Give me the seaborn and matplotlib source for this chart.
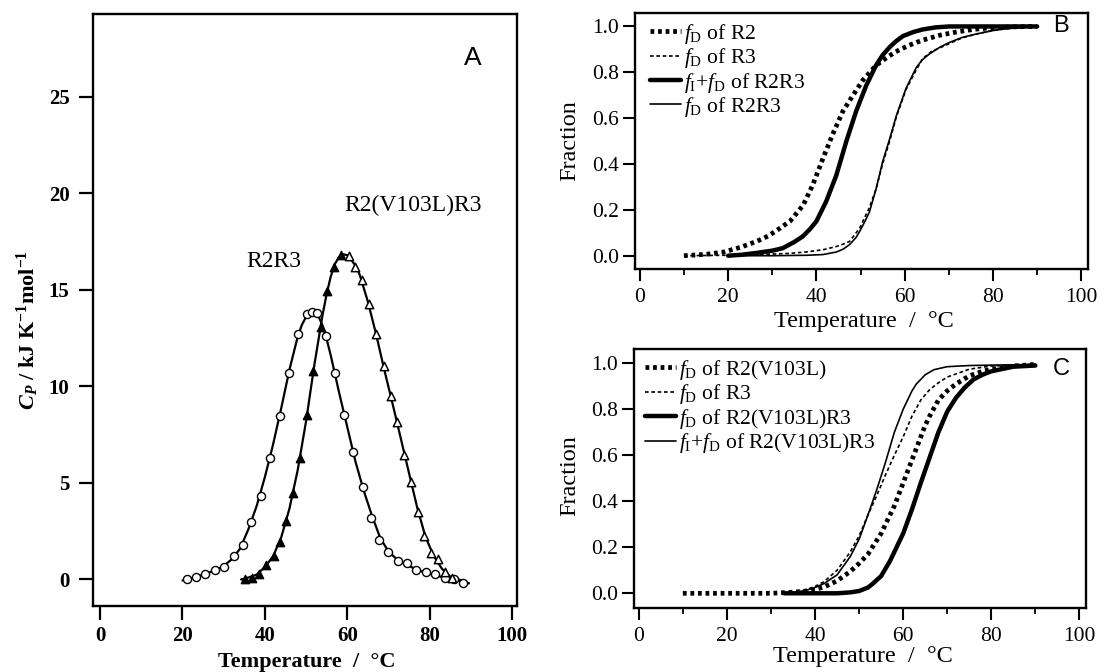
import matplotlib
matplotlib.use("Agg")
import numpy as np
import pandas as pd
import seaborn as sns
import matplotlib.pyplot as plt
from matplotlib.ticker import MultipleLocator, FormatStrFormatter
from matplotlib.lines import Line2D

# ---------------- Panel A data (DSC, Cp in kJ K-1 mol-1) ----------------
t_r2r3_pts = [21.0, 23.3, 25.5, 27.8, 30.1, 32.4, 34.6, 36.6, 39.0, 41.3, 43.6, 45.8,
              48.0, 50.2, 51.4, 52.6, 54.8, 57.1, 59.3, 61.5, 63.8, 65.7, 67.8, 70.0,
              72.2, 74.5, 76.8, 79.0, 81.4, 83.6, 85.8, 88.1]
cp_r2r3_pts = [0.04, 0.15, 0.30, 0.50, 0.65, 1.2, 1.8, 3.0, 4.35, 6.3, 8.45, 10.7,
               12.7, 13.75, 13.85, 13.8, 12.6, 10.7, 8.5, 6.6, 4.8, 3.2, 2.05, 1.4,
               0.95, 0.85, 0.5, 0.4, 0.27, 0.05, 0.0, -0.2]
t_r2r3_fit = [20, 22, 24, 26, 28, 30, 32, 34, 36, 38, 40, 42, 44, 46, 48, 49, 50, 51, 52,
              53, 54, 55, 56, 58, 60, 62, 64, 66, 68, 70, 72, 74, 76, 78, 80, 82, 84, 86,
              88, 89.5]
cp_r2r3_fit = [-0.05, 0.05, 0.18, 0.32, 0.48, 0.7, 1.05, 1.6, 2.6, 3.8, 5.3, 7.0, 8.9,
               10.9, 12.6, 13.2, 13.6, 13.82, 13.85, 13.65, 13.15, 12.45, 11.6, 9.7, 7.9,
               6.1, 4.6, 3.3, 2.15, 1.45, 1.05, 0.8, 0.6, 0.42, 0.3, 0.18, 0.08, 0.0,
               -0.1, -0.2]

t_mut_rise = [35.2, 36.8, 38.5, 40.2, 42.1, 43.6, 45.1, 46.8, 48.6, 50.2, 51.8, 53.6,
              55.1, 56.9, 58.5]
cp_mut_rise = [0.04, 0.1, 0.27, 0.75, 1.2, 1.95, 3.05, 4.5, 6.3, 8.5, 10.8, 13.1,
               14.95, 16.2, 16.8]
t_mut_fall = [60.3, 61.9, 63.6, 65.2, 67.0, 68.8, 70.6, 72.1, 73.8, 75.5, 77.2, 78.7,
              80.3, 81.9, 83.6, 85.5]
cp_mut_fall = [16.75, 16.2, 15.5, 14.25, 12.7, 11.05, 9.5, 8.15, 6.45, 5.05, 3.5, 2.25,
               1.35, 1.05, 0.38, 0.05]
t_mut_fit = [34.2, 36, 38, 40, 42, 44, 46, 48, 50, 52, 54, 55, 56, 57, 58, 59, 60, 61,
             62, 63, 65, 67, 69, 71, 73, 75, 77, 79, 81, 83, 85, 87, 89.5]
cp_mut_fit = [0.0, 0.1, 0.25, 0.65, 1.2, 2.2, 3.7, 5.7, 8.2, 11.1, 13.7, 14.8, 15.7,
              16.35, 16.7, 16.85, 16.8, 16.55, 16.25, 15.8, 14.4, 12.7, 10.85, 9.1, 7.3,
              5.5, 3.7, 2.2, 1.2, 0.55, 0.15, 0.0, -0.2]

# ---------------- Panel B data (fractions) ----------------
tB_r2 = [10, 15, 19, 23, 26.4, 29, 31, 34, 37, 39.2, 41.5, 43.7, 46, 48.3, 50.5, 53.5,
         56, 58, 61, 64, 68, 72, 76, 79, 84, 90]
fB_r2 = [0.0, 0.006, 0.016, 0.038, 0.062, 0.085, 0.11, 0.15, 0.22, 0.31, 0.425, 0.53,
         0.63, 0.70, 0.765, 0.83, 0.865, 0.89, 0.918, 0.94, 0.962, 0.977, 0.988, 0.993,
         0.998, 1.0]
tB_r3 = [10, 20, 28, 34, 38, 41.5, 44.5, 46, 47.5, 49.8, 52, 53.5, 55, 56.6, 58.1, 60.3,
         62.6, 64.1, 66, 70.1, 73, 76.2, 80, 85, 90]
fB_r3 = [0.0, 0.002, 0.006, 0.01, 0.017, 0.026, 0.04, 0.05, 0.062, 0.12, 0.21, 0.29,
         0.40, 0.50, 0.605, 0.725, 0.81, 0.86, 0.89, 0.925, 0.95, 0.967, 0.983, 0.995,
         1.0]
tB_fifd = [20, 23, 26.4, 30, 32.4, 35, 36.9, 38.5, 40, 42.2, 44.5, 46.8, 49, 51.3, 53.5,
           55, 56.6, 58, 59.6, 62, 64.1, 67, 70.1, 80, 90]
fB_fifd = [0.0, 0.004, 0.012, 0.022, 0.033, 0.06, 0.084, 0.115, 0.15, 0.236, 0.35, 0.50,
           0.63, 0.743, 0.83, 0.875, 0.91, 0.935, 0.958, 0.976, 0.987, 0.996, 1.0, 1.0,
           1.0]
tB_fd = [20, 30, 38, 41.5, 44.5, 46, 47.5, 49, 49.8, 51, 52, 53.5, 55, 56.6, 58.1, 60.3,
         62.6, 64, 65.6, 68, 70.1, 73, 76.2, 80, 83, 90]
fB_fd = [0.0, 0.0, 0.002, 0.005, 0.016, 0.028, 0.048, 0.08, 0.106, 0.15, 0.19, 0.29,
         0.41, 0.51, 0.61, 0.73, 0.82, 0.855, 0.88, 0.91, 0.93, 0.952, 0.967, 0.982, 0.99,
         1.0]

# ---------------- Panel C data (fractions) ----------------
tC_mut = [10, 20, 30, 35, 38, 40, 42, 45, 48, 50, 52, 55, 57, 58, 60, 62, 64, 65, 66,
          68, 70, 72, 75, 78, 80, 85, 90]
fC_mut = [0.0, 0.0, 0.0, 0.005, 0.01, 0.017, 0.027, 0.054, 0.095, 0.13, 0.17, 0.26,
          0.34, 0.38, 0.48, 0.58, 0.68, 0.73, 0.77, 0.84, 0.88, 0.91, 0.945, 0.965, 0.974,
          0.988, 0.995]
tC_r3 = [33, 36, 38, 40, 42, 45, 48, 50, 52, 54, 56, 58, 60, 62, 64, 66, 68, 70, 75, 80,
         90]
fC_r3 = [0.0, 0.008, 0.016, 0.03, 0.05, 0.1, 0.18, 0.25, 0.34, 0.425, 0.515, 0.6, 0.68,
         0.77, 0.84, 0.885, 0.915, 0.94, 0.974, 0.988, 0.995]
tC_fd = [33, 45, 48, 50, 52, 53, 55, 57, 58, 60, 62, 64, 66, 68, 70, 72, 74, 76, 78, 80,
         85, 90]
fC_fd = [0.0, 0.0, 0.004, 0.01, 0.025, 0.04, 0.075, 0.14, 0.18, 0.26, 0.365, 0.48, 0.59,
         0.7, 0.79, 0.85, 0.895, 0.93, 0.95, 0.965, 0.985, 0.99]
tC_fifd = [33, 36, 38, 40, 42, 45, 48, 50, 52, 54, 56, 58, 60, 62, 63, 65, 67, 70, 75,
           90]
fC_fifd = [0.0, 0.006, 0.013, 0.025, 0.042, 0.08, 0.16, 0.235, 0.34, 0.45, 0.57, 0.7,
           0.8, 0.88, 0.91, 0.95, 0.972, 0.985, 0.99, 0.995]

labels_B = [r"$f_\mathrm{D}$ of R2", r"$f_\mathrm{D}$ of R3",
            r"$f_\mathrm{I}$+$f_\mathrm{D}$ of R2R3", r"$f_\mathrm{D}$ of R2R3"]
labels_C = [r"$f_\mathrm{D}$ of R2(V103L)", r"$f_\mathrm{D}$ of R3",
            r"$f_\mathrm{D}$ of R2(V103L)R3", r"$f_\mathrm{I}$+$f_\mathrm{D}$ of R2(V103L)R3"]

# ---------------- style ----------------
sns.set_theme(style="ticks")
plt.rcParams.update({
    "font.family": ["Liberation Serif", "DejaVu Serif"],
    "mathtext.fontset": "custom",
    "mathtext.rm": "Liberation Serif",
    "mathtext.it": "Liberation Serif:italic",
    "mathtext.bf": "Liberation Serif:bold",
    "mathtext.bfit": "Liberation Serif:italic:bold",
    "axes.edgecolor": "black",
    "axes.linewidth": 1.7,
    "xtick.color": "black", "ytick.color": "black",
    "text.color": "black", "axes.labelcolor": "black",
    "xtick.direction": "out", "ytick.direction": "out",
})

fig = plt.figure(figsize=(11.01, 6.72), dpi=100)
axA = fig.add_axes([0.0845, 0.0975, 0.3851, 0.8817])
axB = fig.add_axes([0.5767, 0.5997, 0.4114, 0.3814])
axC = fig.add_axes([0.5758, 0.0952, 0.4106, 0.3855])

K = "black"
# ---------------- Panel A ----------------
sns.lineplot(x=t_r2r3_fit, y=cp_r2r3_fit, ax=axA, color=K, linewidth=1.6, sort=False)
sns.lineplot(x=t_mut_fit, y=cp_mut_fit, ax=axA, color=K, linewidth=1.6, sort=False)
sns.scatterplot(x=t_r2r3_pts, y=cp_r2r3_pts, ax=axA, marker="o", s=34,
                facecolor="white", edgecolor=K, linewidth=1.0, zorder=3)
sns.scatterplot(x=t_mut_rise, y=cp_mut_rise, ax=axA, marker="^", s=36,
                facecolor=K, edgecolor=K, linewidth=1.0, zorder=3)
sns.scatterplot(x=t_mut_fall, y=cp_mut_fall, ax=axA, marker="^", s=36,
                facecolor="white", edgecolor=K, linewidth=1.1, zorder=3)
axA.set_xlim(-1.7, 101.2)
axA.set_ylim(-1.4, 29.3)
axA.xaxis.set_major_locator(MultipleLocator(20))
axA.yaxis.set_major_locator(MultipleLocator(5))
axA.tick_params(axis="both", length=10, width=1.6, labelsize=15)
axA.tick_params(axis="y", pad=7)
axA.tick_params(axis="x", pad=4)
for lab in axA.get_xticklabels() + axA.get_yticklabels():
    lab.set_fontweight("bold")
axA.set_xlabel("Temperature  /  °C", fontsize=16, fontweight="bold", va="center")
axA.xaxis.set_label_coords(0.505, -0.093)
axA.set_ylabel(r"$\mathbfit{C}_{\mathbfit{P}}$ / kJ K$^{\mathbf{-1}}$mol$^{\mathbf{-1}}$",
               fontsize=16, fontweight="bold", va="center")
axA.yaxis.set_label_coords(-0.153, 0.467)
axA.text(42.1, 16.5, "R2R3", fontsize=17, ha="center", va="center")
axA.text(76.1, 19.4, "R2(V103L)R3", fontsize=17, ha="center", va="center")
axA.text(0.896, 0.926, "A", transform=axA.transAxes, fontsize=19,
         family="Liberation Sans", ha="center", va="center")

# ---------------- Panels B & C ----------------
dot_thick = dict(linewidth=3.4, linestyle=(0, (0.8, 0.8)), dash_capstyle="butt")
dash_thin = dict(linewidth=1.2, linestyle=(0, (2.2, 1.6)))
solid_thick = dict(linewidth=3.2, linestyle="-", solid_joinstyle="round")
solid_thin = dict(linewidth=1.2, linestyle="-")

def frac_axes(ax, series, styles, labels, letter, leg_anchor, letter_pos):
    for (tt, ff), st in zip(series, styles):
        sns.lineplot(x=tt, y=ff, ax=ax, color=K, sort=False, **st)
    ax.set_xlim(-1.1, 101.5)
    ax.set_ylim(-0.058, 1.06)
    ax.xaxis.set_major_locator(MultipleLocator(20))
    ax.xaxis.set_minor_locator(MultipleLocator(10))
    ax.yaxis.set_major_locator(MultipleLocator(0.2))
    ax.yaxis.set_major_formatter(FormatStrFormatter("%.1f"))
    ax.tick_params(axis="both", which="major", length=8.5, width=1.5, labelsize=15.5)
    ax.tick_params(axis="x", which="minor", length=4, width=1.3)
    ax.tick_params(axis="x", which="major", pad=5)
    ax.tick_params(axis="y", pad=3)
    ax.set_xlabel("Temperature  /  °C", fontsize=17.5, va="center")
    ax.set_ylabel("Fraction", fontsize=17.5, va="center")
    handles = [Line2D([], [], color=K, **st) for st in styles]
    ax.legend(handles, labels, loc="upper left", bbox_to_anchor=leg_anchor,
              frameon=False, fontsize=15.5, handlelength=1.45, handletextpad=0.15,
              labelspacing=0.02, borderpad=0, borderaxespad=0)
    ax.text(letter_pos[0], letter_pos[1], letter, transform=ax.transAxes, fontsize=17,
            family="Liberation Sans", ha="center", va="center")

frac_axes(axB, [(tB_r2, fB_r2), (tB_r3, fB_r3), (tB_fifd, fB_fifd), (tB_fd, fB_fd)],
          [dot_thick, dash_thin, solid_thick, solid_thin], labels_B, "B",
          (0.033, 0.965), (0.940, 0.948))
axB.xaxis.set_label_coords(0.506, -0.203)
axB.yaxis.set_label_coords(-0.143, 0.5)

frac_axes(axC, [(tC_mut, fC_mut), (tC_r3, fC_r3), (tC_fd, fC_fd), (tC_fifd, fC_fifd)],
          [dot_thick, dash_thin, solid_thick, solid_thin], labels_C, "C",
          (0.024, 0.966), (0.945, 0.923))
axC.set_ylim(-0.064, 1.062)
axC.xaxis.set_label_coords(0.506, -0.189)
axC.yaxis.set_label_coords(-0.142, 0.51)

fig.savefig("out.png", dpi=100)
